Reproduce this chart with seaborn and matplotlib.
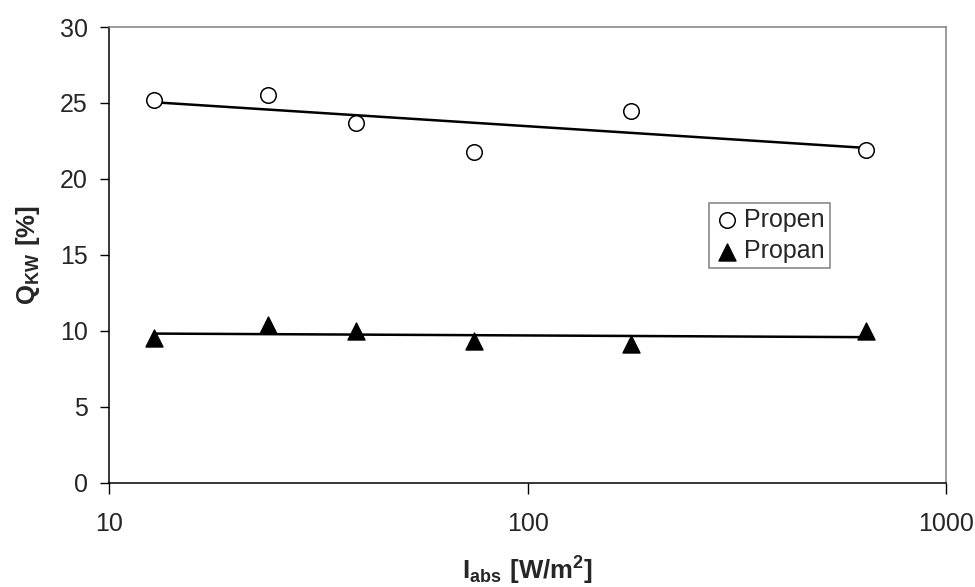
import matplotlib
matplotlib.use('Agg')
import matplotlib.pyplot as plt
import seaborn as sns
import numpy as np
import pandas as pd

# values
intensity = [12.8, 24.0, 38.8, 74.5, 177.0, 645.0]
propen = [25.2, 25.5, 23.65, 21.8, 24.5, 21.9]
propan = [9.5, 10.4, 10.0, 9.3, 9.1, 9.95]

y_ticks = [0, 5, 10, 15, 20, 25, 30]
x_ticks = [10, 100, 1000]

df = pd.DataFrame({'I_abs': intensity, 'Propen': propen, 'Propan': propan})

sns.set_theme(style='ticks')
plt.rcParams['font.family'] = ['Liberation Sans', 'DejaVu Sans']
plt.rcParams['mathtext.fontset'] = 'custom'
plt.rcParams['mathtext.rm'] = 'Liberation Sans'
plt.rcParams['mathtext.bf'] = 'Liberation Sans:bold'

fig = plt.figure(figsize=(9.75, 5.87), dpi=100)
ax = fig.add_axes([0.1122, 0.178, 0.8580, 0.776])

# open circles with log trendline
sns.regplot(x='I_abs', y='Propen', data=df, logx=True, ci=None, ax=ax,
            marker='o', label='Propen',
            scatter_kws={'s': 125, 'facecolors': 'white', 'edgecolors': 'black',
                         'linewidths': 1.1, 'alpha': 1, 'zorder': 3},
            line_kws={'color': 'black', 'lw': 1.8, 'zorder': 2})
# filled triangles with log trendline
sns.regplot(x='I_abs', y='Propan', data=df, logx=True, ci=None, ax=ax,
            marker='^', label='Propan',
            scatter_kws={'s': 150, 'color': 'black', 'alpha': 1, 'zorder': 3},
            line_kws={'color': 'black', 'lw': 1.8, 'zorder': 2})

ax.set_xscale('log')
ax.set_xlim(10, 1000)
ax.set_ylim(0, 30)
ax.set_xticks(x_ticks)
ax.set_xticklabels([str(t) for t in x_ticks])
ax.set_yticks(y_ticks)
ax.xaxis.set_minor_locator(matplotlib.ticker.NullLocator())
ax.tick_params(axis='both', labelsize=18, direction='out', color='black', width=1)
ax.tick_params(axis='y', length=6.5, pad=9)
ax.tick_params(axis='x', length=8, pad=13)

for side in ['left', 'bottom']:
    ax.spines[side].set_color('black')
    ax.spines[side].set_linewidth(1.1)
for side in ['top', 'right']:
    ax.spines[side].set_visible(True)
    ax.spines[side].set_color('#808080')
    ax.spines[side].set_linewidth(1.1)

ax.set_xlabel(r'$\mathbf{I_{abs}\ [W/m^2]}$', fontsize=18.5, labelpad=14)
ax.set_ylabel(r'$\mathbf{Q_{KW}\ [\%]}$', fontsize=18.5, labelpad=13)

leg = ax.legend(loc='upper left', bbox_to_anchor=(709 / 975, 1 - 203 / 587),
                bbox_transform=fig.transFigure, fontsize=18, frameon=True,
                fancybox=False, framealpha=1, edgecolor='#808080',
                handletextpad=0.2, handlelength=1.0, borderpad=0.2,
                labelspacing=0.3, borderaxespad=0)
leg.get_frame().set_linewidth(1.1)

fig.savefig('out.png', dpi=100)
